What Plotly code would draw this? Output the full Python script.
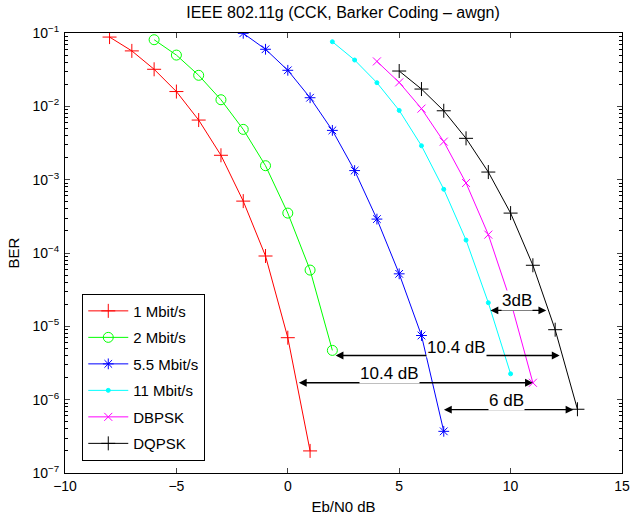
import numpy as np
import plotly.graph_objects as go

# ---- data ----
x_1 = [-8, -7, -6, -5, -4, -3, -2, -1, 0, 1]
ber_1 = [0.088, 0.057, 0.032, 0.0159, 0.0065, 0.00215, 5.1e-4, 9.1e-5, 7.0e-6, 2.0e-7]

x_2 = [-6, -5, -4, -3, -2, -1, 0, 1, 2]
ber_2 = [0.081, 0.050, 0.0265, 0.0123, 0.00485, 0.00155, 3.5e-4, 5.85e-5, 4.7e-6]

x_55 = [-2, -1, 0, 1, 2, 3, 4, 5, 6, 7]
ber_55 = [0.099, 0.060, 0.031, 0.0131, 0.0047, 0.00133, 2.9e-4, 5.2e-5, 7.5e-6, 3.7e-7]

x_11 = [2, 3, 4, 5, 6, 7, 8, 9, 10]
ber_11 = [0.076, 0.0428, 0.021, 0.0088, 0.0029, 7.4e-4, 1.5e-4, 2.1e-5, 2.25e-6]

x_dbpsk = [4, 5, 6, 7, 8, 9, 10, 11]
ber_dbpsk = [0.041, 0.0212, 0.0093, 0.0033, 9.0e-4, 1.78e-4, 2.2e-5, 1.7e-6]

x_dqpsk = [5, 6, 7, 8, 9, 10, 11, 12, 13]
ber_dqpsk = [0.0303, 0.0172, 0.0087, 0.00366, 0.00127, 3.5e-4, 6.8e-5, 9.0e-6, 7.4e-7]

series_names = ["1 Mbit/s", "2 Mbit/s", "5.5 Mbit/s", "11 Mbit/s", "DBPSK", "DQPSK"]

# double-headed arrows: start x, end x, level
arrow_x0 = [9.03, 2.08, 0.43, 6.94]
arrow_x1 = [11.6, 12.2, 11.0, 12.82]
arrow_y = [1.65e-5, 4.0e-6, 1.7e-6, 7.3e-7]
label_text = ["3dB", "10.4 dB", "10.4 dB", "6 dB"]
label_x = [10.27, 7.56, 4.56, 9.82]
label_y = [2.28e-5, 5.2e-6, 2.25e-6, 9.75e-7]

y_tickvals = [1e-7, 1e-6, 1e-5, 1e-4, 1e-3, 1e-2, 1e-1]
y_ticktext = ["10<sup>−7</sup>", "10<sup>−6</sup>", "10<sup>−5</sup>", "10<sup>−4</sup>",
              "10<sup>−3</sup>", "10<sup>−2</sup>", "10<sup>−1</sup>"]
x_tickvals = [-10, -5, 0, 5, 10, 15]

# ---- styles ----
xs = [x_1, x_2, x_55, x_11, x_dbpsk, x_dqpsk]
ys = [ber_1, ber_2, ber_55, ber_11, ber_dbpsk, ber_dqpsk]
colors = ["#ff0000", "#00ff00", "#0000ff", "#00ffff", "#ff00ff", "#000000"]
symbols = ["cross-thin-open", "circle-open", "asterisk-open", "circle", "x-thin-open", "cross-thin-open"]
sizes = [10, 10, 9, 4, 8, 10]

FONT = "Liberation Sans, Arial, Helvetica, sans-serif"

fig = go.Figure()
for i in range(6):
    fig.add_trace(go.Scatter(
        x=xs[i], y=ys[i], mode="lines+markers", name=series_names[i],
        legendgroup=f"g{i}",
        line=dict(color=colors[i], width=1),
        marker=dict(symbol=symbols[i], size=sizes[i], color=colors[i],
                    line=dict(color=colors[i], width=1)),
    ))

annotations = []
for i in range(len(arrow_x0)):
    annotations.append(dict(
        x=arrow_x1[i], y=np.log10(arrow_y[i]), xref="x", yref="y",
        ax=arrow_x0[i], ay=np.log10(arrow_y[i]), axref="x", ayref="y",
        text="", showarrow=True, arrowhead=2, arrowsize=1.2, arrowwidth=1.3,
        arrowside="end+start", arrowcolor="black", standoff=0, startstandoff=0,
    ))
for i in range(len(label_text)):
    annotations.append(dict(
        x=label_x[i], y=np.log10(label_y[i]), xref="x", yref="y",
        text=label_text[i], showarrow=False, bgcolor="white",
        font=dict(family=FONT, size=17, color="black"),
        borderpad=0,
    ))

minor_vals = []
for e in range(-7, 0):
    for m in range(2, 10):
        v = m * 10.0 ** e
        if v < 0.1:
            minor_vals.append(v)

fig.update_layout(
    width=631, height=518,
    margin=dict(l=64.5, r=9, t=32.7, b=45.3, autoexpand=False),
    paper_bgcolor="white", plot_bgcolor="white",
    font=dict(family=FONT, size=14, color="black"),
    title=dict(text="IEEE 802.11g (CCK, Barker Coding – awgn)", x=0.5436, xanchor="center",
               xref="container", yref="container",
               y=1 - 7 / 518, yanchor="top", font=dict(size=16, color="black")),
    xaxis=dict(range=[-10, 15], tickvals=x_tickvals, ticks="inside", ticklen=5,
               showline=True, linecolor="black", linewidth=1, mirror="allticks",
               showgrid=False, zeroline=False, tickfont=dict(size=14), automargin=False,
               title=dict(text="Eb/N0 dB", font=dict(size=15), standoff=8)),
    yaxis=dict(type="log", range=[-7, -1], tickvals=y_tickvals, ticktext=y_ticktext,
               ticks="inside", ticklen=5, showline=True, linecolor="black", linewidth=1,
               mirror="allticks", showgrid=False, zeroline=False, tickfont=dict(size=14),
               ticklabelstandoff=2, automargin=False,
               minor=dict(tickvals=minor_vals, ticks="inside", ticklen=3, tickcolor="black",
                          showgrid=False),
               title=dict(text="BER", font=dict(size=15), standoff=9)),
    legend=dict(x=0.031, y=0.4077, xanchor="left", yanchor="top",
                bordercolor="black", borderwidth=1, bgcolor="white",
                font=dict(size=15), tracegroupgap=4, itemwidth=40),
    annotations=annotations,
    showlegend=True,
)

fig.write_html("out.html", config={"displayModeBar": False},
               post_script="document.body.style.margin='0';document.body.style.padding='0';")
